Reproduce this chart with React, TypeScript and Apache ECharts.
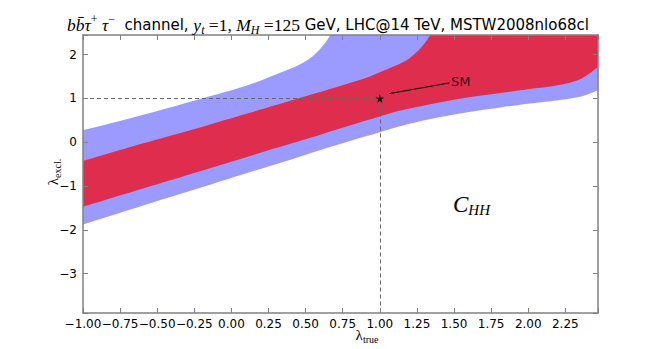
import React, { useEffect, useRef } from 'react';
import * as echarts from 'echarts';

// Shared x positions (lambda_true) at which the band edges were read
const X = [-1, -0.6, -0.2, 0.1, 0.3, 0.45, 0.55, 0.65, 0.75, 0.9, 1.0, 1.1, 1.2, 1.3, 1.4, 1.6, 1.8, 2.0, 2.2, 2.35, 2.47];
// Outer (blue) band
const blueUpper = [0.27, 0.62, 1.0, 1.29, 1.55, 1.76, 1.97, 2.36, 3.0, 3.6, 4.0, 4.3, 4.5, 4.5, 4.5, 4.5, 4.5, 4.5, 4.5, 4.5, 4.5];
const blueLower = [-1.88, -1.45, -1.03, -0.71, -0.5, -0.34, -0.23, -0.12, -0.02, 0.13, 0.23, 0.33, 0.42, 0.5, 0.57, 0.69, 0.79, 0.88, 0.96, 1.04, 1.19];
// Inner (red) band
const redUpper = [-0.43, -0.03, 0.35, 0.65, 0.85, 1.0, 1.1, 1.2, 1.3, 1.46, 1.6, 1.74, 1.92, 2.25, 2.8, 3.8, 4.5, 4.5, 4.5, 4.5, 4.5];
const redLower = [-1.47, -1.06, -0.65, -0.34, -0.13, 0.02, 0.12, 0.23, 0.33, 0.49, 0.59, 0.69, 0.77, 0.84, 0.91, 1.03, 1.12, 1.21, 1.3, 1.44, 1.72];

// SM point and annotation
const smPoint = [1, 1];
const arrowFrom = [1.47, 1.355];
const arrowTo = [1.061, 1.11];
const smLabelAt = [1.545, 1.384];

const X_MIN = -1;
const X_MAX = 2.47;
const Y_MIN = -3.9;
const Y_MAX = 2.45;

const BLUE = '#9b9bff';
const RED = '#df2e4d';
const FRAME = '#808080';
const SANS = 'DejaVu Sans';
const SERIF = 'Liberation Serif';

const STAR = 'path://M50,0 L61,35 L98,35 L68,57 L79,91 L50,70 L21,91 L32,57 L2,35 L39,35 Z';

function fmtX(v: number) {
  const k = Math.round(v * 4);
  if (Math.abs(v * 4 - k) > 1e-6 || v > 2.3) return '';
  return v.toFixed(2).replace('-', '\u2212');
}
function fmtY(v: number) {
  const k = Math.round(v);
  if (Math.abs(v - k) > 1e-6) return '';
  return String(k).replace('-', '\u2212');
}

// Each edge is filled down to the axis start; layered so that the
// band between consecutive edges gets the right colour.
function edgeSeries(name: string, values: number[], fill: string) {
  return {
    name,
    type: 'line',
    smooth: 0.3,
    symbol: 'none',
    clip: true,
    lineStyle: { width: 0, opacity: 0 },
    areaStyle: { color: fill, opacity: 1, origin: 'start' },
    data: X.map((x, i) => [x, values[i]]),
    z: 2,
  };
}

const axisCommonX = {
  type: 'value',
  min: X_MIN,
  max: X_MAX,
  interval: 0.25,
  z: 10,
  splitLine: { show: false },
  axisLine: { show: true, onZero: false, lineStyle: { color: FRAME, width: 1.5 } },
  axisTick: { show: true, inside: true, length: 5, lineStyle: { color: FRAME, width: 1 } },
};
const axisCommonY = {
  type: 'value',
  min: Y_MIN,
  max: Y_MAX,
  splitNumber: 6,
  minInterval: 1,
  maxInterval: 1,
  z: 10,
  splitLine: { show: false },
  axisLine: { show: true, onZero: false, lineStyle: { color: FRAME, width: 1.5 } },
  axisTick: { show: true, inside: true, length: 5, lineStyle: { color: FRAME, width: 1 } },
};

const option: any = {
  animation: false,
  backgroundColor: '#ffffff',
  grid: { left: 83, right: 66, top: 35, bottom: 36, containLabel: false, outerBoundsMode: 'none' },
  xAxis: [
    {
      ...axisCommonX,
      position: 'bottom',
      axisLabel: { show: true, formatter: fmtX, color: '#000', fontFamily: SANS, fontSize: 12, margin: 5 },
    },
    {
      ...axisCommonX,
      position: 'top',
      axisLabel: { show: false },
    },
  ],
  yAxis: [
    {
      ...axisCommonY,
      position: 'left',
      axisLabel: { show: true, formatter: fmtY, color: '#000', fontFamily: SANS, fontSize: 12, margin: 6 },
    },
    {
      ...axisCommonY,
      position: 'right',
      axisLabel: { show: false },
    },
  ],
  series: [
    edgeSeries('blueUpper', blueUpper, BLUE),
    edgeSeries('redUpper', redUpper, RED),
    edgeSeries('redLower', redLower, BLUE),
    edgeSeries('blueLower', blueLower, '#ffffff'),
    {
      name: 'guides',
      type: 'line',
      data: [],
      z: 5,
      markLine: {
        silent: true,
        symbol: 'none',
        label: { show: false },
        lineStyle: { color: '#666', type: [4, 3], width: 1 },
        data: [
          [{ coord: [X_MIN, smPoint[1]] }, { coord: smPoint }],
          [{ coord: smPoint }, { coord: [smPoint[0], Y_MIN] }],
        ],
      },
    },
    {
      name: 'arrow',
      type: 'line',
      data: [],
      z: 6,
      markLine: {
        silent: true,
        symbol: ['none', 'arrow'],
        symbolSize: [0, 7],
        label: { show: false },
        lineStyle: { color: '#000', type: 'solid', width: 1 },
        data: [[{ coord: arrowFrom }, { coord: arrowTo }]],
      },
    },
    {
      name: 'SM',
      type: 'scatter',
      data: [smPoint],
      symbol: STAR,
      symbolSize: 9,
      itemStyle: { color: '#000' },
      z: 7,
    },
    {
      name: 'SMlabel',
      type: 'scatter',
      data: [smLabelAt],
      symbolSize: 0,
      label: {
        show: true,
        position: 'inside',
        formatter: 'SM',
        color: '#000',
        fontFamily: SANS,
        fontSize: 13,
      },
      z: 7,
    },
  ],
  graphic: [
    {
      type: 'text',
      x: 67,
      y: 13,
      z: 100,
      style: {
        text:
          '{m|bb\u0304\u03c4}{sup|+}{m| \u03c4}{sup|\u2212}{s|  channel, }{m|y}{sub|t}{r| =1, }{m|M}{sub|H}{r| =125}{s| GeV, LHC@14 TeV, MSTW2008nlo68cl}',
        rich: {
          m: { fontFamily: SERIF, fontStyle: 'italic', fontSize: 17.5, lineHeight: 23, fill: '#000', verticalAlign: 'middle' },
          r: { fontFamily: SERIF, fontSize: 17.5, lineHeight: 23, fill: '#000', verticalAlign: 'middle' },
          s: { fontFamily: SANS, fontSize: 15, lineHeight: 23, fill: '#000', verticalAlign: 'middle' },
          sup: { fontFamily: SERIF, fontSize: 12, lineHeight: 13, fill: '#000', verticalAlign: 'top' },
          sub: { fontFamily: SERIF, fontStyle: 'italic', fontSize: 12, lineHeight: 13, fill: '#000', verticalAlign: 'bottom' },
        },
      },
    },
    {
      type: 'text',
      x: 367,
      y: 335,
      z: 100,
      style: {
        text: '{l|\u03bb}{s|true}',
        align: 'center',
        verticalAlign: 'middle',
        rich: {
          l: { fontFamily: SERIF, fontSize: 15, lineHeight: 18, fill: '#000', verticalAlign: 'middle' },
          s: { fontFamily: SERIF, fontSize: 10, lineHeight: 11, fill: '#000', verticalAlign: 'bottom' },
        },
      },
    },
    {
      type: 'text',
      x: 53,
      y: 172,
      z: 100,
      rotation: Math.PI / 2,
      style: {
        text: '{l|\u03bb}{s|excl.}',
        align: 'center',
        verticalAlign: 'middle',
        rich: {
          l: { fontFamily: SERIF, fontSize: 15, lineHeight: 18, fill: '#000', verticalAlign: 'middle' },
          s: { fontFamily: SERIF, fontSize: 10, lineHeight: 11, fill: '#000', verticalAlign: 'bottom' },
        },
      },
    },
    {
      type: 'text',
      x: 453,
      y: 191,
      z: 100,
      style: {
        text: '{c|C}{h|HH}',
        rich: {
          c: { fontFamily: SERIF, fontStyle: 'italic', fontSize: 23, lineHeight: 26, fill: '#000', verticalAlign: 'middle' },
          h: { fontFamily: SERIF, fontStyle: 'italic', fontSize: 15, lineHeight: 14, fill: '#000', verticalAlign: 'bottom' },
        },
      },
    },
  ],
};

export default function App() {
  const ref = useRef<HTMLDivElement>(null);
  useEffect(() => {
    const chart = echarts.init(ref.current!, null, { renderer: 'svg' });
    chart.setOption(option);
    return () => chart.dispose();
  }, []);
  return <div ref={ref} style={{ position: 'fixed', left: 0, top: 0, width: 664, height: 349 }} />;
}
